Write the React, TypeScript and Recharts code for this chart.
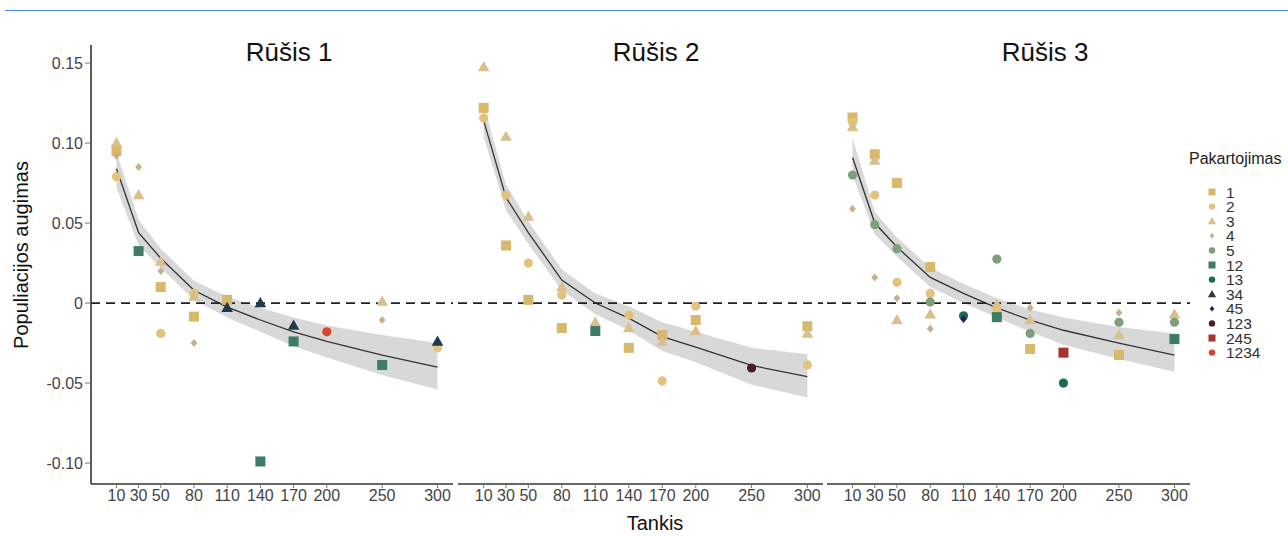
import { ComposedChart, XAxis, YAxis, Line, Area, Scatter, ReferenceLine } from 'recharts'

// Tankis values (x) shared by every panel
const densities = [10, 30, 50, 80, 110, 140, 170, 200, 250, 300]
const yTicks = [-0.1, -0.05, 0, 0.05, 0.1, 0.15]
const replicates = ['1', '2', '3', '4', '5', '12', '13', '34', '45', '123', '245', '1234']
const panelTitles = ['Rūšis 1', 'Rūšis 2', 'Rūšis 3']

type Pt = { x: number; rep: string; y: number }

const points1: Pt[] = [
  { x: 10, rep: '3', y: 0.1 }, { x: 10, rep: '1', y: 0.095 }, { x: 10, rep: '4', y: 0.092 }, { x: 10, rep: '2', y: 0.079 },
  { x: 30, rep: '4', y: 0.085 }, { x: 30, rep: '3', y: 0.0675 }, { x: 30, rep: '12', y: 0.0325 },
  { x: 50, rep: '3', y: 0.026 }, { x: 50, rep: '4', y: 0.02 }, { x: 50, rep: '1', y: 0.01 }, { x: 50, rep: '2', y: -0.019 },
  { x: 80, rep: '2', y: 0.006 }, { x: 80, rep: '3', y: 0.004 }, { x: 80, rep: '1', y: -0.0085 }, { x: 80, rep: '4', y: -0.025 },
  { x: 110, rep: '1', y: 0.002 }, { x: 110, rep: '34', y: -0.003 },
  { x: 140, rep: '34', y: 0.0 }, { x: 140, rep: '12', y: -0.099 },
  { x: 170, rep: '34', y: -0.014 }, { x: 170, rep: '12', y: -0.024 },
  { x: 200, rep: '1234', y: -0.018 },
  { x: 250, rep: '3', y: 0.001 }, { x: 250, rep: '4', y: -0.0106 }, { x: 250, rep: '12', y: -0.0387 },
  { x: 300, rep: '2', y: -0.028 }, { x: 300, rep: '34', y: -0.024 },
]
const fit1 = [0.084, 0.044, 0.028, 0.008, -0.0025, -0.0106, -0.018, -0.024, -0.0325, -0.04]
const low1 = [0.072, 0.036, 0.022, 0.002, -0.009, -0.018, -0.027, -0.034, -0.045, -0.054]
const high1 = [0.094, 0.052, 0.034, 0.014, 0.004, -0.003, -0.009, -0.014, -0.02, -0.025]

const points2: Pt[] = [
  { x: 10, rep: '3', y: 0.1475 }, { x: 10, rep: '1', y: 0.122 }, { x: 10, rep: '2', y: 0.1156 },
  { x: 30, rep: '3', y: 0.104 }, { x: 30, rep: '2', y: 0.0675 }, { x: 30, rep: '1', y: 0.036 },
  { x: 50, rep: '3', y: 0.054 }, { x: 50, rep: '2', y: 0.025 }, { x: 50, rep: '1', y: 0.002 },
  { x: 80, rep: '3', y: 0.01 }, { x: 80, rep: '2', y: 0.005 }, { x: 80, rep: '1', y: -0.0156 },
  { x: 110, rep: '3', y: -0.012 }, { x: 110, rep: '12', y: -0.0175 },
  { x: 140, rep: '2', y: -0.0075 }, { x: 140, rep: '3', y: -0.0156 }, { x: 140, rep: '1', y: -0.028 },
  { x: 170, rep: '1', y: -0.02 }, { x: 170, rep: '4', y: -0.022 }, { x: 170, rep: '3', y: -0.024 }, { x: 170, rep: '2', y: -0.0487 },
  { x: 200, rep: '2', y: -0.002 }, { x: 200, rep: '1', y: -0.0106 }, { x: 200, rep: '3', y: -0.0175 },
  { x: 250, rep: '123', y: -0.0406 },
  { x: 300, rep: '1', y: -0.0145 }, { x: 300, rep: '3', y: -0.019 }, { x: 300, rep: '2', y: -0.0387 },
]
const fit2 = [0.114, 0.066, 0.044, 0.0144, 0.0, -0.0094, -0.021, -0.0275, -0.039, -0.046]
const low2 = [0.104, 0.058, 0.037, 0.008, -0.007, -0.017, -0.03, -0.037, -0.051, -0.059]
const high2 = [0.124, 0.074, 0.051, 0.021, 0.006, -0.002, -0.012, -0.018, -0.028, -0.032]

const points3: Pt[] = [
  { x: 10, rep: '1', y: 0.116 }, { x: 10, rep: '2', y: 0.113 }, { x: 10, rep: '3', y: 0.11 }, { x: 10, rep: '5', y: 0.08 }, { x: 10, rep: '4', y: 0.059 },
  { x: 30, rep: '1', y: 0.093 }, { x: 30, rep: '3', y: 0.089 }, { x: 30, rep: '2', y: 0.0675 }, { x: 30, rep: '5', y: 0.049 }, { x: 30, rep: '4', y: 0.016 },
  { x: 50, rep: '1', y: 0.075 }, { x: 50, rep: '5', y: 0.034 }, { x: 50, rep: '2', y: 0.013 }, { x: 50, rep: '4', y: 0.003 }, { x: 50, rep: '3', y: -0.0106 },
  { x: 80, rep: '1', y: 0.0225 }, { x: 80, rep: '2', y: 0.006 }, { x: 80, rep: '5', y: 0.0006 }, { x: 80, rep: '3', y: -0.007 }, { x: 80, rep: '4', y: -0.016 },
  { x: 110, rep: '13', y: -0.008 }, { x: 110, rep: '45', y: -0.01 },
  { x: 140, rep: '5', y: 0.0275 }, { x: 140, rep: '3', y: -0.001 }, { x: 140, rep: '2', y: -0.004 }, { x: 140, rep: '12', y: -0.0088 },
  { x: 170, rep: '4', y: -0.003 }, { x: 170, rep: '3', y: -0.0106 }, { x: 170, rep: '5', y: -0.019 }, { x: 170, rep: '1', y: -0.0287 },
  { x: 200, rep: '245', y: -0.031 }, { x: 200, rep: '13', y: -0.05 },
  { x: 250, rep: '4', y: -0.006 }, { x: 250, rep: '5', y: -0.012 }, { x: 250, rep: '3', y: -0.02 }, { x: 250, rep: '1', y: -0.0325 },
  { x: 300, rep: '3', y: -0.007 }, { x: 300, rep: '5', y: -0.012 }, { x: 300, rep: '12', y: -0.0225 },
]
const fit3 = [0.091, 0.05, 0.035, 0.016, 0.006, -0.003, -0.0106, -0.017, -0.025, -0.0325]
const low3 = [0.08, 0.043, 0.029, 0.01, 0.0, -0.009, -0.018, -0.026, -0.035, -0.043]
const high3 = [0.103, 0.057, 0.041, 0.022, 0.012, 0.003, -0.004, -0.009, -0.015, -0.019]

const repStyle: Record<string, { shape: string; color: string }> = {
  '1': { shape: 'square', color: '#d8b96c' },
  '2': { shape: 'circle', color: '#e2c27c' },
  '3': { shape: 'triangle', color: '#d9be8e' },
  '4': { shape: 'diamond', color: '#c9ae8a' },
  '5': { shape: 'circle', color: '#7e9f7b' },
  '12': { shape: 'square', color: '#3e7d63' },
  '13': { shape: 'circle', color: '#1d6a52' },
  '34': { shape: 'triangle', color: '#1f3b4b' },
  '45': { shape: 'diamond', color: '#1b2452' },
  '123': { shape: 'circle', color: '#4b1c31' },
  '245': { shape: 'square', color: '#a5322c' },
  '1234': { shape: 'circle', color: '#d2482e' },
}

const X_DOMAIN: [number, number] = [-13, 314]
const Y_DOMAIN: [number, number] = [-0.1131, 0.1613]
const FONT = '"Liberation Sans", Arial, sans-serif'

function Marker({ cx, cy, rep, scale = 1 }: { cx: number; cy: number; rep: string; scale?: number }) {
  const st = repStyle[rep]
  if (!st || cx == null || cy == null) return null
  const s = scale
  if (st.shape === 'square') return <rect x={cx - 5 * s} y={cy - 5 * s} width={10 * s} height={10 * s} fill={st.color} />
  if (st.shape === 'circle') return <circle cx={cx} cy={cy} r={4.6 * s} fill={st.color} />
  if (st.shape === 'triangle')
    return <polygon points={`${cx},${cy - 6 * s} ${cx - 5.8 * s},${cy + 4.2 * s} ${cx + 5.8 * s},${cy + 4.2 * s}`} fill={st.color} />
  return <polygon points={`${cx},${cy - 4 * s} ${cx + 3.4 * s},${cy} ${cx},${cy + 4 * s} ${cx - 3.4 * s},${cy}`} fill={st.color} />
}

type PanelProps = {
  points: Pt[]
  fit: number[]
  low: number[]
  high: number[]
  showY: boolean
  left: number
  width: number
  right: number
}

function Panel({ points, fit, low, high, showY, left, width, right }: PanelProps) {
  const curve = densities.map((x, i) => ({ x, fit: fit[i], band: [low[i], high[i]] }))
  return (
    <div style={{ position: 'absolute', left, top: 0 }}>
      <ComposedChart width={width} height={536} data={curve} margin={{ top: 45, right, bottom: 22, left: 0 }}>
        <XAxis
          type="number"
          dataKey="x"
          domain={X_DOMAIN}
          ticks={densities}
          allowDataOverflow
          interval={0}
          height={30}
          tickSize={4}
          tickMargin={2}
          tick={{ fill: '#444', fontSize: 16 }}
          axisLine={{ stroke: '#333', strokeWidth: 1.6 }}
          tickLine={{ stroke: '#777' }}
        />
        <YAxis
          type="number"
          domain={Y_DOMAIN}
          ticks={yTicks}
          allowDataOverflow
          hide={!showY}
          width={showY ? 91 : 0}
          tickSize={6}
          tickMargin={2}
          tickFormatter={(v: number) => (v === 0 ? '0' : v.toFixed(2))}
          tick={{ fill: '#444', fontSize: 16 }}
          axisLine={{ stroke: '#333', strokeWidth: 1.6 }}
          tickLine={{ stroke: '#777' }}
        />
        <Area
          type="linear"
          dataKey="band"
          stroke="none"
          fill="#d4d4d4"
          fillOpacity={0.9}
          isAnimationActive={false}
          activeDot={false}
        />
        <Line type="linear" dataKey="fit" stroke="#333" strokeWidth={1.3} dot={false} isAnimationActive={false} />
        <ReferenceLine y={0} stroke="#222" strokeWidth={1.8} strokeDasharray="9 6" />
        <Scatter
          data={points}
          dataKey="y"
          isAnimationActive={false}
          shape={(p: any) => <Marker cx={p.cx} cy={p.cy} rep={p.payload.rep} />}
        />
      </ComposedChart>
    </div>
  )
}

export default function App() {
  const titleX = [289, 656, 1045]
  return (
    <div style={{ position: 'absolute', left: 0, top: 0, width: 1288, height: 536, background: '#fff', fontFamily: FONT }}>
      <Panel points={points1} fit={fit1} low={low1} high={high1} showY left={0} width={460} right={7} />
      <Panel points={points2} fit={fit2} low={low2} high={high2} showY={false} left={458} width={370} right={5} />
      <Panel points={points3} fit={fit3} low={low3} high={high3} showY={false} left={827} width={370} right={7} />
      <svg width={1288} height={536} style={{ position: 'absolute', left: 0, top: 0, pointerEvents: 'none' }}>
        <line x1={5} x2={1288} y1={10.5} y2={10.5} stroke="#4a86e8" strokeWidth={1} />
        {panelTitles.map((t, i) => (
          <text key={t} x={titleX[i]} y={61} textAnchor="middle" fontSize={26} fill="#111">
            {t}
          </text>
        ))}
        <text x={655} y={530} textAnchor="middle" fontSize={20} fill="#111">
          Tankis
        </text>
        <text x={28} y={255} textAnchor="middle" fontSize={20} fill="#111" transform="rotate(-90 28 255)">
          Populiacijos augimas
        </text>
        <text x={1189} y={164} fontSize={16} fill="#222">
          Pakartojimas
        </text>
        {replicates.map((r, i) => {
          const cy = 192 + i * 14.6
          return (
            <g key={r}>
              <Marker cx={1212} cy={cy} rep={r} scale={0.7} />
              <text x={1226} y={cy + 5.5} fontSize={15.5} fill="#333">
                {r}
              </text>
            </g>
          )
        })}
      </svg>
    </div>
  )
}
